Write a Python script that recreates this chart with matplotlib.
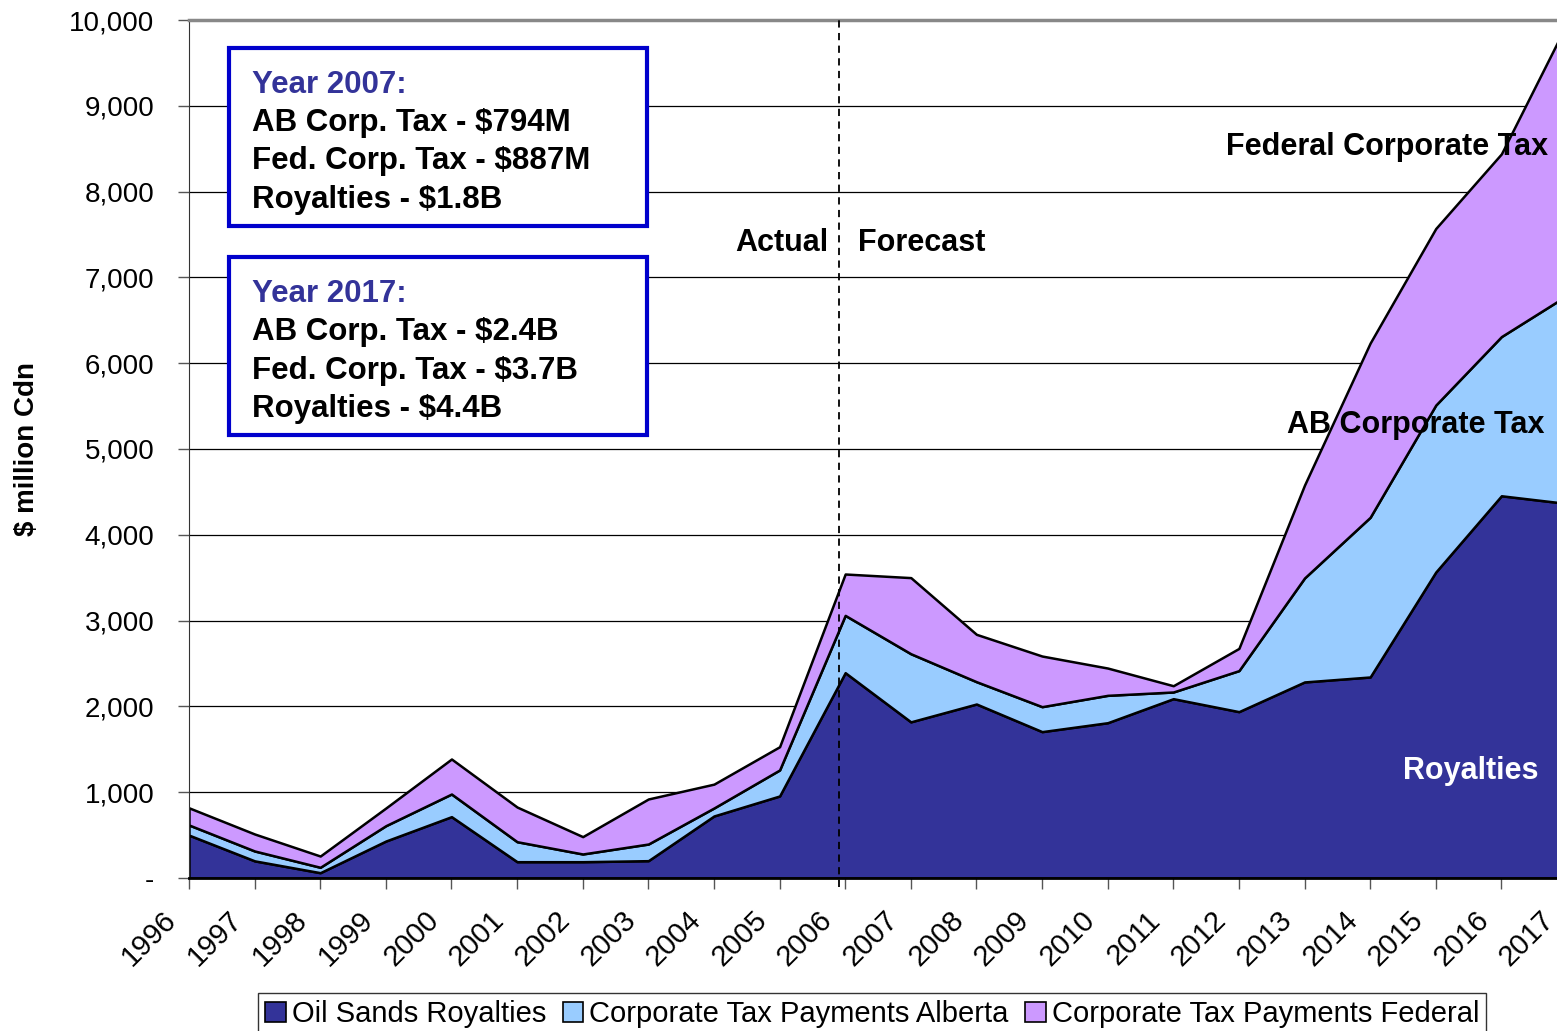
import numpy as np
import matplotlib.pyplot as plt
from matplotlib.patches import Patch
from matplotlib.transforms import ScaledTranslation

plt.rcParams['font.family'] = ['Liberation Sans', 'DejaVu Sans']

# data ($ million Cdn)
years = list(range(1996, 2018))
royalties = [500, 200, 62, 431, 715, 190, 190, 202, 723, 956, 2393, 1820, 2028,
             1706, 1810, 2090, 1939, 2285, 2343, 3566, 4455, 4365]
ab_tax = [118, 115, 63, 179, 264, 233, 90, 194, 93, 303, 668, 794, 260,
          291, 319, 78, 478, 1212, 1861, 1946, 1855, 2425]
fed_tax = [200, 198, 131, 206, 408, 404, 202, 525, 278, 271, 482, 887, 552,
           590, 318, 73, 259, 1083, 2031, 2058, 2130, 3170]
series_names = ["Oil Sands Royalties", "Corporate Tax Payments Alberta",
                "Corporate Tax Payments Federal"]
colors = ["#333399", "#99CCFF", "#CC99FF"]
yticks = list(range(0, 10001, 1000))
ytick_labels = ["-"] + [f"{v:,}" for v in yticks[1:]]

fig = plt.figure(figsize=(15.57, 10.31), dpi=100)
ax = fig.add_axes([189 / 1557, 1 - 878 / 1031, 1378 / 1557, 858 / 1031])

ax.stackplot(years, royalties, ab_tax, fed_tax, colors=colors,
             edgecolor="black", linewidth=1.8, zorder=2)

ax.set_xlim(1996, 2017)
ax.set_ylim(0, 10000)
ax.set_yticks(yticks)
ax.set_yticklabels(ytick_labels, fontsize=20)
ax.set_xticks(years)
ax.set_xticklabels([str(y) for y in years], rotation=45, ha="right",
                   rotation_mode="anchor", fontsize=21)
ax.tick_params(axis="both", direction="out", length=8, width=1, color="#555555")
ax.tick_params(axis="y", pad=17)
ax.tick_params(axis="x", pad=12)
# shift the slanted year labels left so their ends sit just left of each tick
shift = ScaledTranslation(-0.27, 0, fig.dpi_scale_trans)
for lab in ax.get_xticklabels():
    lab.set_transform(lab.get_transform() + shift)
ax.grid(axis="y", color="black", linewidth=0.9, zorder=1)
ax.set_axisbelow(True)
ax.spines["right"].set_visible(False)
ax.spines["top"].set_color("#888888")
ax.spines["top"].set_linewidth(2.5)
ax.spines["left"].set_color("#333333")
ax.spines["bottom"].set_linewidth(2)

ax.set_ylabel("$ million Cdn", fontsize=20, fontweight="bold")
ax.yaxis.set_label_coords((40 - 189) / 1378, 0.5)

# actual / forecast divider
ax.axvline(2005.9, ymin=-0.01, ymax=1, color="black", linestyle=(0, (4, 3)),
           linewidth=1.3, zorder=3, clip_on=False)
ax.text(2005.75, 7400, "Actual", ha="right", va="center", fontsize=22,
        fontweight="bold")
ax.text(2006.2, 7400, "Forecast", ha="left", va="center", fontsize=22,
        fontweight="bold")

# series labels (right-aligned near the right edge)
ax.text(2016.71, 8525, "Federal Corporate Tax", ha="right", va="center",
        fontsize=22, fontweight="bold", zorder=4)
ax.text(2016.66, 5285, "AB Corporate Tax", ha="right", va="center",
        fontsize=22, fontweight="bold", zorder=4)
ax.text(2016.56, 1245, "Royalties", ha="right", va="center", fontsize=22,
        fontweight="bold", color="white", zorder=4)

# annotation boxes
boxes = [
    ("Year 2007:", ["AB Corp. Tax - $794M", "Fed. Corp. Tax - $887M",
                    "Royalties - $1.8B"], 48),
    ("Year 2017:", ["AB Corp. Tax - $2.4B", "Fed. Corp. Tax - $3.7B",
                    "Royalties - $4.4B"], 257),
]
for head, lines, top_px in boxes:
    x0, x1 = 229 / 1557, 647 / 1557
    y1 = 1 - top_px / 1031
    y0 = 1 - (top_px + 178) / 1031
    rect = plt.Rectangle((x0, y0), x1 - x0, y1 - y0, transform=fig.transFigure,
                         facecolor="white", edgecolor="#0000CC", linewidth=3,
                         zorder=5)
    fig.patches.append(rect)
    tx = 252 / 1557
    fig.text(tx, 1 - (top_px + 37) / 1031, head, fontsize=22.5, fontweight="bold",
             color="#333399", va="center", zorder=6)
    for i, line in enumerate(lines):
        fig.text(tx, 1 - (top_px + 75 + 38.5 * i) / 1031, line, fontsize=22.5,
                 fontweight="bold", color="black", va="center", zorder=6)

handles = [Patch(facecolor=c, edgecolor="black", linewidth=1.2) for c in colors]
leg = fig.legend(handles, series_names, loc="upper left",
                 bbox_to_anchor=(258 / 1557, 1 - 993 / 1031), ncol=3,
                 fontsize=21, frameon=True, fancybox=False, edgecolor="black",
                 handlelength=0.7, handleheight=0.7, handletextpad=0.2,
                 columnspacing=0.58, borderpad=0.25, borderaxespad=0)
leg.get_frame().set_linewidth(1)

fig.savefig("out.png", dpi=100)
